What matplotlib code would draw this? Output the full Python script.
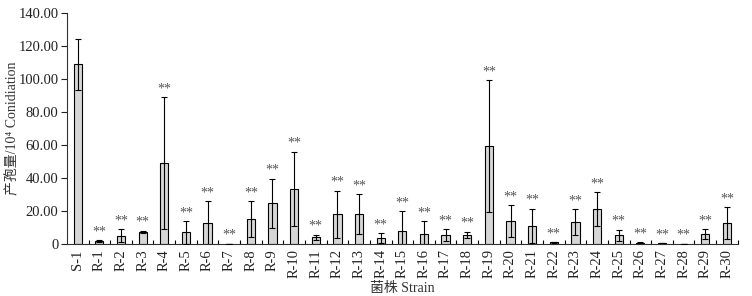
import numpy as np
import matplotlib.pyplot as plt
from matplotlib.ticker import FuncFormatter, FixedLocator

plt.rcParams['font.family'] = ['Liberation Serif', 'Noto Sans CJK SC', 'DejaVu Sans']

strains = ['S-1'] + ['R-%d' % i for i in range(1, 31)]
means = [109.0, 1.5, 4.9, 7.1, 48.8, 6.9, 12.4, 0.0, 14.8, 24.5,
         33.2, 3.8, 17.8, 17.8, 3.2, 7.9, 5.7, 5.1, 5.3, 59.4,
         13.8, 10.9, 0.8, 13.0, 21.1, 5.1, 0.6, 0.3, 0.0, 5.9, 12.4]
errs = [15.6, 0.5, 3.8, 0.8, 40.1, 6.9, 13.5, 0.0, 10.9, 15.0,
        22.7, 1.7, 14.4, 12.2, 3.1, 12.1, 7.9, 3.8, 2.0, 39.9,
        9.7, 10.4, 0.2, 7.9, 10.3, 3.4, 0.2, 0.1, 0.0, 2.8, 9.7]
marks = [''] + ['**'] * 30

fig = plt.figure(figsize=(7.52, 2.96), dpi=100)
ax = fig.add_axes([0.089, 0.177, 0.892, 0.778])

x = np.arange(len(strains))
ax.bar(x, means, width=0.38, color='#d6d6d6', edgecolor='black', linewidth=0.8, zorder=2)
ax.errorbar(x, means, yerr=errs, fmt='none', ecolor='black', elinewidth=0.8,
            capsize=2.2, capthick=0.8, zorder=3)

for xi, m, e, s in zip(x, means, errs, marks):
    if s:
        ax.text(xi, m + e + 1.0, s, ha='center', va='bottom', fontsize=10,
                color='#555555')

ax.set_xlim(-0.5, len(strains) - 0.5)
ax.set_ylim(0, 140)
ax.yaxis.set_major_locator(FixedLocator(np.arange(0, 141, 20)))
ax.yaxis.set_major_formatter(FuncFormatter(lambda v, p: '0' if v == 0 else '%.2f' % v))
ax.set_xticks(x)
ax.set_xticklabels(strains, rotation=90, fontsize=10.5)
ax.tick_params(axis='x', length=0, pad=4, colors='#222222')
ax.set_xticks(np.arange(0.5, len(strains) - 0.4, 1), minor=True)
ax.tick_params(axis='x', which='minor', direction='in', length=3, width=0.8)
ax.tick_params(axis='y', labelsize=10.5, length=4, width=0.8, pad=2, colors='#222222')

ax.spines['top'].set_visible(False)
ax.spines['right'].set_visible(False)
ax.spines['left'].set_color('#333333')
ax.spines['bottom'].set_color('#333333')

ax.set_ylabel('产孢量/10⁴ Conidiation', fontsize=10, color='#333333')
ax.yaxis.set_label_coords(-0.0715, 0.5)
ax.set_xlabel('菌株 Strain', fontsize=10, color='#333333')
ax.xaxis.set_label_coords(0.5, -0.168)

plt.savefig('out.png', dpi=100)
